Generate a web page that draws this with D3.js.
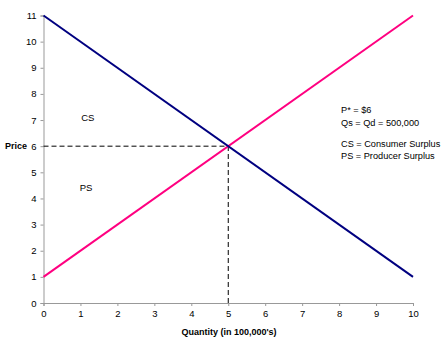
<!DOCTYPE html>
<html><head><meta charset="utf-8">
<script src="https://cdn.jsdelivr.net/npm/d3@7"></script>
<style>body{margin:0;background:#fff}svg{display:block}text{font-family:"Liberation Sans",Arial,sans-serif}</style>
</head><body><svg id="c" width="443" height="339"></svg>
<script>
const xTicks = [0,1,2,3,4,5,6,7,8,9,10];
const yTicks = [0,1,2,3,4,5,6,7,8,9,10,11];
const quantity = [0,10];
const demandPrice = [11,1];
const supplyPrice = [1,11];
const eqQ = 5, eqP = 6;
const notesTop = ["P* = $6","Qs = Qd = 500,000"];
const notesBottom = ["CS = Consumer Surplus","PS = Producer Surplus"];
const regionLabels = [{t:"CS",q:1.2,p:7.1},{t:"PS",q:1.15,p:4.4}];

const svg = d3.select("#c");
const x = d3.scaleLinear().domain([0,10]).range([43.5,413]);
const y = d3.scaleLinear().domain([0,11]).range([303,15.5]);

const xa = svg.append("g").attr("transform","translate(0,303)").call(d3.axisBottom(x).tickValues(xTicks).tickSize(3).tickPadding(4));
const ya = svg.append("g").attr("transform","translate(43.5,0)").call(d3.axisLeft(y).tickValues(yTicks).tickSize(3).tickPadding(4));
[xa,ya].forEach(a=>{a.selectAll("path,line").attr("stroke","#999");a.selectAll("text").attr("font-size","9.5px").attr("fill","#000").style("font-family","Liberation Sans, Arial, sans-serif");});

const line = d3.line().x(d=>x(d[0])).y(d=>y(d[1]));
svg.append("path").attr("d",line([[0,eqP],[eqQ,eqP]])).attr("stroke","#000").attr("stroke-width",1).attr("stroke-dasharray","5,3").attr("fill","none");
svg.append("path").attr("d",line([[eqQ,0],[eqQ,eqP]])).attr("stroke","#000").attr("stroke-width",1).attr("stroke-dasharray","5,3").attr("fill","none");
svg.append("path").attr("d",line(quantity.map((q,i)=>[q,supplyPrice[i]]))).attr("stroke","#FF0080").attr("stroke-width",2).attr("fill","none");
svg.append("path").attr("d",line(quantity.map((q,i)=>[q,demandPrice[i]]))).attr("stroke","#000080").attr("stroke-width",2).attr("fill","none");

regionLabels.forEach(r=>svg.append("text").attr("x",x(r.q)).attr("y",y(r.p)).attr("dy","0.35em").attr("font-size","9.5px").attr("text-anchor","middle").text(r.t));

svg.append("text").attr("x",27).attr("y",y(6)).attr("dy","0.35em").attr("text-anchor","end").attr("font-size","9px").attr("font-weight","bold").text("Price");
svg.append("text").attr("x",229).attr("y",332).attr("dy","0.35em").attr("text-anchor","middle").attr("font-size","9px").attr("font-weight","bold").text("Quantity (in 100,000's)");

notesTop.forEach((n,i)=>svg.append("text").attr("x",341).attr("y",110+i*12.5).attr("dy","0.35em").attr("font-size","9.2px").text(n));
notesBottom.forEach((n,i)=>svg.append("text").attr("x",341).attr("y",143.5+i*12.5).attr("dy","0.35em").attr("font-size","9.2px").text(n));
</script></body></html>
